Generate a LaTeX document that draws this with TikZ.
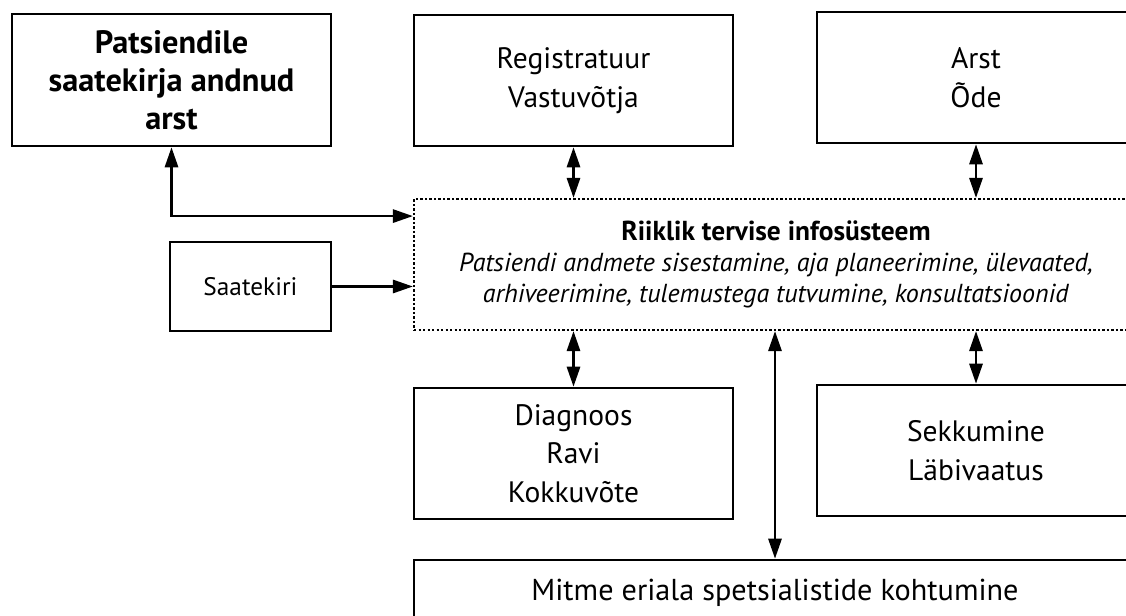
\documentclass[tikz,border=0pt]{standalone}
\usepackage{fontspec}
\setmainfont{PT Sans}
\usepackage{tikz}
\usetikzlibrary{arrows.meta, positioning}

\begin{document}
\begin{tikzpicture}[x=0.025cm, y=-0.025cm,
  >={Triangle[length=5mm, width=3.3mm]},
  box/.style={draw, line width=1.9pt, inner sep=0pt, align=center, font=\fontsize{21}{27.5}\selectfont},
  infobox/.style={draw, line width=1.6pt, dash pattern=on 1.6pt off 1.6pt, inner sep=0pt, align=center, font=\fontsize{18.5}{22}\selectfont},
  link/.style={line width=1.7pt}]
\useasboundingbox (0,0) rectangle (1126,616);
\clip (0,0) rectangle (1126,616);
\node[box, minimum width=319*0.025cm, minimum height=132*0.025cm, font=\fontsize{23}{27}\selectfont\bfseries] (saatja) at (171.5,80)
{Patsiendile\\saatekirja andnud\\arst};
\node[box, minimum width=319*0.025cm, minimum height=131*0.025cm] (registratuur) at (573.5,80.5)
{Registratuur\\Vastuvõtja};
\node[box, minimum width=318*0.025cm, minimum height=131*0.025cm] (arst) at (976,77.5)
{Arst\\Õde};
\node[infobox, minimum width=724*0.025cm, minimum height=131*0.025cm] (rtis) at (776,264.5)
{{\fontsize{19.5}{22}\selectfont\bfseries Riiklik tervise infosüsteem}\\
\textit{Patsiendi andmete sisestamine, aja planeerimine, ülevaated,}\\
\textit{arhiveerimine, tulemustega tutvumine, konsultatsioonid}};
\node[box, minimum width=161*0.025cm, minimum height=89*0.025cm, font=\fontsize{18}{22}\selectfont] (saatekiri) at (250.5,286.5)
{Saatekiri};
\node[box, minimum width=319*0.025cm, minimum height=131*0.025cm] (diagnoos) at (573.5,453.5)
{Diagnoos\\Ravi\\Kokkuvõte};
\node[box, minimum width=318*0.025cm, minimum height=131*0.025cm] (sekkumine) at (976,450.5)
{Sekkumine\\Läbivaatus};
\node[box, minimum width=722*0.025cm, minimum height=66*0.025cm, font=\fontsize{21.5}{27.5}\selectfont] (kohtumine) at (775,593)
{Mitme eriala spetsialistide kohtumine};
\draw[link, <->] (saatja.south) |- ([yshift=1.21cm]rtis.west);
\draw[link, ->] (saatekiri.east) -- (saatekiri.east -| rtis.west);
\draw[link, <->] (registratuur.south) -- (registratuur.south |- rtis.north);
\draw[link, <->] (arst.south) -- (arst.south |- rtis.north);
\draw[link, <->] (diagnoos.north) -- (diagnoos.north |- rtis.south);
\draw[link, <->] (sekkumine.north) -- (sekkumine.north |- rtis.south);
\draw[link, <->] (kohtumine.north) -- (kohtumine.north |- rtis.south);
\end{tikzpicture}
\end{document}
